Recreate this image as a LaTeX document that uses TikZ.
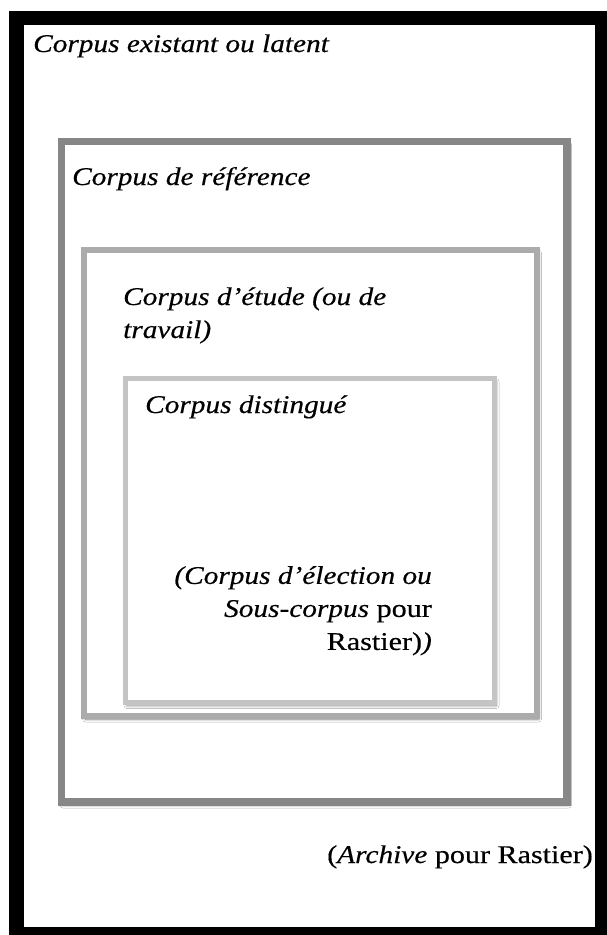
\documentclass[tikz,border=0pt]{standalone}
\usepackage{fontspec}
\setmainfont{Liberation Serif}[UprightFeatures={FakeStretch=1.18, FakeBold=0.4}, ItalicFeatures={FakeStretch=1.15, FakeBold=0.4}, BoldFeatures={FakeStretch=1.15}]
\usetikzlibrary{shadows.blur}
\definecolor{refgray}{HTML}{878787}
\definecolor{etugray}{HTML}{ABABAB}
\definecolor{disgray}{HTML}{C4C4C4}
\tikzset{
  lbl/.style={anchor=base west, inner sep=0pt, font=\fontsize{25.5}{33}\selectfont\itshape},
  rlbl/.style={inner sep=0pt, font=\fontsize{25.5}{33}\selectfont, align=right},
  boxshadow/.style={blur shadow={shadow xshift=1.5pt, shadow yshift=-3pt, shadow blur steps=6, shadow blur radius=3pt, shadow opacity=50}},
}
\begin{document}
\begin{tikzpicture}[x=1pt,y=-1pt]
\useasboundingbox (0,0) rectangle (606,935);
% outer black frame (clipped at right and bottom)
\fill[black] (9,11) rectangle (620,950);
\fill[white] (24,25) rectangle (595,927);
% boxes
\path[boxshadow, fill=white, draw=refgray, line width=7.5pt] (61.5,141.5) rectangle (567,802);
\path[boxshadow, fill=white, draw=etugray, line width=6pt] (84,250) rectangle (537,716);
\path[boxshadow, fill=white, draw=disgray, line width=5pt] (125.5,378.5) rectangle (494.5,702.5);
% labels
\node[lbl] (existant) at (33,52) {Corpus existant ou latent};
\node[lbl] (reference) at (72,185) {Corpus de référence};
\node[lbl] (etude1) at (123,305) {Corpus d’étude (ou de};
\node[lbl] (etude2) at (123,338) {travail)};
\node[lbl] (distingue) at (145,413) {Corpus distingué};
\node[rlbl, anchor=north east] (election) at (432,566) {\itshape(Corpus d’élection ou\\\textit{Sous-corpus} \upshape pour\\\upshape Rastier)\textit{)}};
\node[rlbl, anchor=base east] (archive) at (593,863) {(\textit{Archive} pour Rastier)};
\end{tikzpicture}
\end{document}
